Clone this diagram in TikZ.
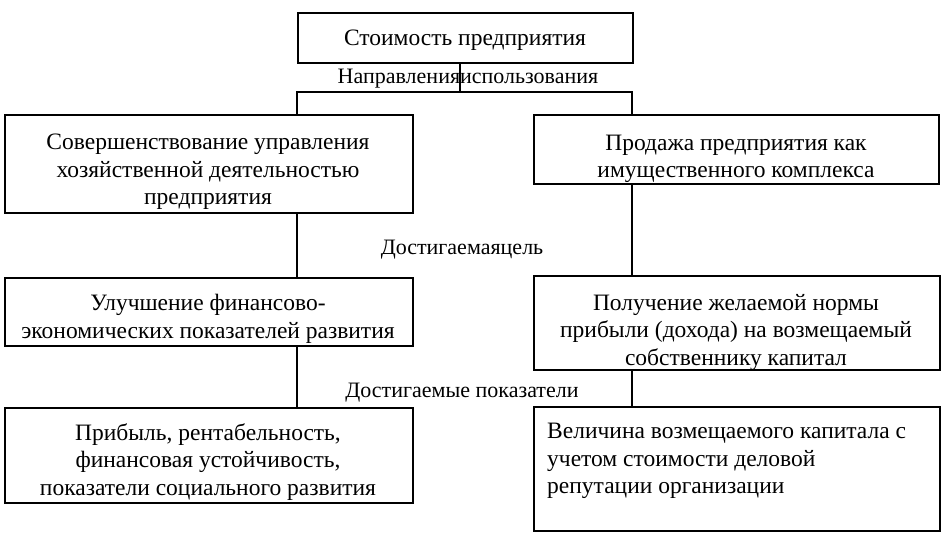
\documentclass[tikz,border=0pt]{standalone}
\usepackage{fontspec}
\setmainfont{Liberation Serif}
\begin{document}
\begin{tikzpicture}[x=1pt,y=-1pt,
  box/.style={draw,line width=1.5pt,anchor=north west,inner sep=0pt},
  boxtext/.style={align=center,font=\fontsize{23.5}{27.5}\selectfont,inner sep=0pt},
  lbl/.style={font=\fontsize{22}{24}\selectfont,inner sep=0pt},
  conn/.style={line width=1.5pt}]
\useasboundingbox (0,0) rectangle (945,538);
% boxes
\node[box,minimum width=335pt,minimum height=50pt] (top) at (297,12) {};
\node[boxtext] (topt) at (465,40) {Стоимость предприятия};
\node[box,minimum width=408pt,minimum height=98pt] (l1) at (4,114) {};
\node[boxtext] (l1t) at (208,172) {Совершенствование управления\\хозяйственной деятельностью\\предприятия};
\node[box,minimum width=405pt,minimum height=69pt] (r1) at (533,114) {};
\node[boxtext] (r1t) at (736,159) {Продажа предприятия как\\имущественного комплекса};
\node[box,minimum width=408pt,minimum height=68pt] (l2) at (4,277) {};
\node[boxtext] (l2t) at (208,319) {Улучшение финансово-\\экономических показателей развития};
\node[box,minimum width=406pt,minimum height=94pt] (r2) at (533,275) {};
\node[boxtext] (r2t) at (736,332) {Получение желаемой нормы\\прибыли (дохода) на возмещаемый\\собственнику капитал};
\node[box,minimum width=408pt,minimum height=95pt] (l3) at (4,407) {};
\node[boxtext] (l3t) at (208,462) {Прибыль, рентабельность,\\финансовая устойчивость,\\показатели социального развития};
\node[box,minimum width=406pt,minimum height=124pt] (r3) at (533,406) {};
\node[boxtext,align=left,anchor=north west] (r3t) at (547,423) {Величина возмещаемого капитала с\\учетом стоимости деловой\\репутации организации};
% connectors
\coordinate (j) at (460,92);
\coordinate (jl) at (297,92);
\coordinate (jr) at (632,92);
\draw[conn] (top.south -| j) -- (j);
\draw[conn] (l1.north -| jl) -- (jl) -- (jr) -- (r1.north -| jr);
\draw[conn] (l1.south -| jl) -- (l2.north -| jl);
\draw[conn] (r1.south -| jr) -- (r2.north -| jr);
\draw[conn] (l2.south -| jl) -- (l3.north -| jl);
\draw[conn] (r2.south -| jr) -- (r3.north -| jr);
% labels
\node[lbl] (a) at (468,79) {Направленияиспользования};
\node[lbl] (b) at (462,250) {Достигаемаяцель};
\node[lbl] (c) at (462,393) {Достигаемые показатели};
\end{tikzpicture}
\end{document}
